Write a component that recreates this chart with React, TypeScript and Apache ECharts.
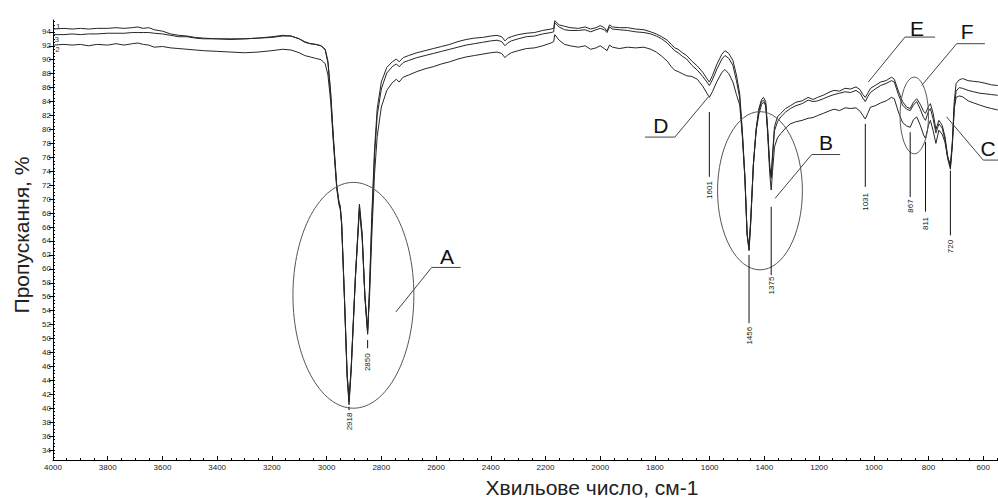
import React, { useEffect, useRef } from "react";
import * as echarts from "echarts";

const FONT = "'Liberation Sans', Arial, sans-serif";

// Wavenumber grid (cm-1) shared by the three spectra
const wavenumbers = [
  4000, 3960, 3930, 3900, 3870, 3840, 3800, 3770, 3740, 3710, 3690, 3670, 3650, 3630, 3600, 3570, 3540, 3510, 3480, 3450,
  3400, 3350, 3300, 3250, 3200, 3160, 3130, 3100, 3080, 3060, 3040, 3020, 3005, 2995, 2985, 2975, 2963, 2955, 2950, 2945,
  2935, 2925, 2918, 2910, 2895, 2880, 2870, 2860, 2850, 2843, 2835, 2825, 2815, 2800, 2780, 2760, 2745, 2735, 2720, 2700,
  2670, 2640, 2610, 2580, 2550, 2520, 2490, 2460, 2430, 2400, 2377, 2360, 2348, 2338, 2325, 2300, 2270, 2240, 2210, 2180,
  2170, 2166, 2150, 2130, 2110, 2080, 2055, 2035, 2015, 2000, 1985, 1975, 1966, 1955, 1930, 1900, 1870, 1840, 1815, 1795,
  1775, 1755, 1740, 1728, 1715, 1700, 1684, 1665, 1645, 1625, 1610, 1601, 1590, 1573, 1555, 1544, 1530, 1515, 1502, 1490,
  1480, 1471, 1463, 1456, 1450, 1440, 1430, 1420, 1410, 1403, 1395, 1388, 1380, 1375, 1370, 1363, 1352, 1340, 1322, 1305,
  1285, 1262, 1240, 1222, 1205, 1185, 1160, 1145, 1125, 1105, 1085, 1065, 1050, 1040, 1031, 1022, 1012, 995, 975, 955,
  935, 925, 910, 895, 880, 867, 855, 843, 830, 818, 811, 800, 793, 783, 773, 762, 750, 740, 730, 720,
  713, 706, 699, 688, 676, 655, 635, 613, 590, 570, 547,
];

// Spectrum 1 (top)
const spectrum1 = [
  94.4, 94.5, 94.4, 94.5, 94.4, 94.5, 94.5, 94.6, 94.5, 94.6, 94.7, 94.5, 94.6, 94.3, 94.1, 93.7, 93.5, 93.4, 93.2, 93.1,
  93.0, 93.0, 93.0, 93.1, 93.3, 93.5, 93.4, 93.0, 92.5, 92.3, 92.2, 92.0, 91.4, 89.5, 85.0, 78.5, 71.8, 69.5, 68.8, 66.5,
  56.0, 44.5, 40.5, 45.5, 58.5, 69.3, 65.0, 56.0, 50.6, 57.5, 67.5, 77.0, 83.0, 86.8, 88.9, 89.7, 90.1, 89.7, 90.3, 90.6,
  91.0, 91.3, 91.6, 91.9, 92.2, 92.6, 92.9, 93.1, 93.2, 93.4, 93.5, 93.3, 92.7, 93.1, 93.3, 93.6, 93.8, 93.9, 94.2, 94.4,
  94.5, 95.6, 95.0, 94.8, 94.6, 94.5, 94.7, 94.4, 94.6, 94.9, 94.6, 94.1, 95.0, 94.7, 94.6, 94.6, 94.4, 94.3, 94.0, 93.7,
  93.3, 92.8, 92.2, 91.7, 91.5, 91.0, 90.6, 89.8, 89.1, 88.2, 87.3, 86.8, 87.7, 89.4, 90.8, 91.3, 90.9, 89.9, 87.8, 85.1,
  79.5, 73.2, 65.0, 62.6, 66.5, 75.0, 80.0, 83.0, 84.3, 84.6, 84.0, 80.0, 74.5, 73.3, 76.5, 80.4, 81.8, 82.3, 83.0, 83.4,
  83.9, 84.1, 84.6, 84.3, 84.6, 84.9, 85.4, 85.6, 85.5, 85.9, 85.8, 86.1, 85.7, 85.0, 84.6, 85.2, 85.9, 86.3, 86.8, 87.0,
  87.5, 87.2, 85.5, 84.0, 83.2, 83.0, 83.9, 84.4, 83.6, 82.6, 82.3, 83.3, 83.7, 82.3, 80.0, 81.3, 80.6, 79.0, 76.2, 74.6,
  78.0, 84.0, 86.6, 87.1, 87.3, 87.0, 86.9, 86.8, 86.6, 86.4, 86.3,
];

// Spectrum 3 (middle)
const spectrum3 = [
  93.6, 93.6, 93.7, 93.6, 93.7, 93.7, 93.8, 93.8, 93.8, 93.9, 93.9, 93.9, 93.9, 93.8, 93.7, 93.5, 93.3, 93.3, 93.1, 93.0,
  93.0, 92.9, 93.0, 93.1, 93.2, 93.4, 93.4, 93.0, 92.6, 92.3, 92.2, 92.0, 91.5, 89.8, 85.3, 78.8, 72.0, 69.7, 69.0, 66.7,
  56.2, 44.8, 40.9, 45.8, 58.7, 69.0, 64.8, 56.0, 50.8, 57.0, 66.5, 76.0, 82.0, 85.8, 88.1, 89.0, 89.4, 89.0, 89.6, 89.9,
  90.3, 90.6, 90.9, 91.2, 91.5, 91.8, 92.1, 92.3, 92.5, 92.7, 92.8, 92.6, 92.0, 92.4, 92.7, 93.0, 93.3, 93.4, 93.7, 93.9,
  94.0, 95.3, 94.7, 94.3, 94.2, 94.2, 94.3, 94.0, 94.3, 94.5, 94.3, 93.9, 94.7, 94.4, 94.3, 94.2, 94.0, 93.9, 93.7, 93.4,
  93.0, 92.4, 91.8, 91.3, 91.0, 90.5, 90.1, 89.2, 88.5, 87.6, 86.8, 86.3, 87.1, 88.7, 90.1, 90.6, 90.2, 89.2, 87.0, 84.5,
  79.0, 73.0, 64.8, 62.8, 66.5, 75.0, 80.0, 82.7, 84.0, 84.2, 83.6, 80.0, 74.5, 73.0, 76.0, 79.8, 81.1, 81.8, 82.5, 83.0,
  83.4, 83.7, 84.2, 84.0, 84.1, 84.4, 84.8, 85.0, 85.2, 85.4, 85.3, 85.6, 85.2, 84.5, 84.0, 84.7, 85.3, 85.8, 86.3, 86.6,
  87.0, 86.8, 85.0, 83.5, 82.9, 82.7, 83.5, 84.0, 82.9, 81.7, 81.3, 82.6, 83.0, 81.5, 79.5, 80.8, 80.2, 78.6, 75.8, 74.3,
  77.5, 83.0, 85.5, 86.0, 85.9, 85.6, 85.4, 85.2, 85.1, 85.0, 84.9,
];

// Spectrum 2 (bottom)
const spectrum2 = [
  92.1, 92.2, 92.1, 92.2, 92.0, 92.2, 92.1, 92.3, 92.1, 92.3, 92.4, 92.2, 92.1, 91.8, 91.9, 91.7, 91.6, 91.5, 91.4, 91.3,
  91.2, 91.1, 91.0, 91.1, 91.3, 91.5, 91.4, 91.0, 90.6, 90.4, 90.2, 90.0, 89.4, 87.8, 84.0, 78.0, 71.5, 69.2, 68.5, 66.3,
  56.0, 45.0, 41.3, 46.0, 58.5, 68.4, 64.3, 56.2, 51.2, 56.0, 64.5, 73.5, 79.0, 83.2, 85.6, 86.7, 87.2, 86.8, 87.5, 87.8,
  88.3, 88.7, 89.0, 89.4, 89.7, 90.1, 90.4, 90.6, 90.8, 91.0, 91.1, 90.9, 90.3, 90.7, 91.0, 91.3, 91.6, 91.7, 92.0, 92.4,
  92.6, 93.6, 92.8, 92.2, 92.0, 91.8, 92.0, 91.5, 91.7, 92.0, 91.6, 91.3, 92.1, 91.8, 91.6, 91.8, 91.7, 91.8, 91.5, 91.1,
  90.5, 89.8, 89.0, 88.5, 88.3, 88.0, 87.7, 87.6, 87.2, 86.2, 85.2, 84.6, 85.4, 86.9, 88.2, 88.6, 88.0, 86.8, 85.0, 83.5,
  78.8, 72.8, 65.0, 63.3, 67.0, 75.0, 79.8, 82.2, 83.6, 83.9, 83.4, 79.5, 73.5, 71.3, 74.0, 77.5, 78.8, 79.4, 80.2, 80.8,
  81.1, 81.3, 81.6, 81.7, 82.0, 82.3, 82.7, 82.9, 82.7, 83.1, 83.0, 83.1, 82.6, 82.0, 81.5, 82.3, 83.2, 83.4, 83.8, 84.1,
  84.6, 84.4, 82.5, 81.0, 80.5, 80.3, 81.4, 81.8, 80.6, 79.2, 78.7, 80.6, 81.3, 79.8, 78.0, 79.9, 79.3, 78.2, 76.0, 74.9,
  78.0, 83.0, 84.6, 84.8, 84.7, 84.1, 83.8, 83.5, 83.2, 83.0, 82.8,
];

// Axis ticks
const xMajorTicks = [4000, 3800, 3600, 3400, 3200, 3000, 2800, 2600, 2400, 2200, 2000, 1800, 1600, 1400, 1200, 1000, 800, 600];
const yMajorTicks = [34, 36, 38, 40, 42, 44, 46, 48, 50, 52, 54, 56, 58, 60, 62, 64, 66, 68, 70, 72, 74, 76, 78, 80, 82, 84, 86, 88, 90, 92, 94];
const xMinorTicks: number[] = [];
for (let v = 4000; v >= 550; v -= 50) xMinorTicks.push(v);
const yMinorTicks: number[] = [];
for (let v = 33; v <= 95.5; v += 0.5) yMinorTicks.push(v);

// Peak markers: wavenumber label, line top/bottom and label centre (transmittance)
const peakLabels = ["2918", "2850", "1601", "1456", "1375", "1031", "867", "811", "720"];
const peakWn = [2918, 2850, 1601, 1456, 1375, 1031, 867, 811, 720];
const peakLineTop = [40.2, 49.8, 82.5, 62.0, 68.9, 80.8, 79.6, 78.2, 74.1];
const peakLineBottom = [39.7, 48.6, 73.2, 52.2, 59.1, 71.75, 70.3, 68.2, 64.8];
const peakTextT = [38.1, 46.6, 71.3, 50.4, 57.6, 69.6, 69.0, 66.5, 63.2];

// Ellipses (centre and half-axes in data units)
const ellipseWn = [2902, 1416, 852];
const ellipseT = [56.2, 71.2, 82.0];
const ellipseRWn = [221, 155, 52];
const ellipseRT = [16.2, 11.35, 5.5];

// Leader lines with letters: start, elbow, end, letter position
const leaderLetters = ["A", "B", "C", "D", "E", "F"];
const leaderStart = [[2747, 53.8], [1361, 70.1], [734, 81.8], [1605, 84.65], [1020, 86.8], [825, 86.3]];
const leaderElbow = [[2616, 60.2], [1227, 76.4], [600, 75.6], [1727, 78.9], [886, 93.25], [697, 92.3]];
const leaderEnd = [[2510, 60.2], [1123, 76.4], [546, 75.6], [1836, 78.9], [776, 93.25], [594, 92.3]];
const leaderText = [[2560, 61.8], [1175, 78.1], [582, 77.2], [1778, 80.6], [842, 94.5], [659, 94.1]];

// Spectrum number tags
const tagTexts = ["1", "3", "2"];
const tagWn = [3981, 3986, 3984];
const tagT = [94.75, 92.9, 91.45];

export default function App() {
  const ref = useRef<HTMLDivElement>(null);
  useEffect(() => {
    if (!ref.current) return;
    const chart = echarts.init(ref.current, undefined, { renderer: "svg" });
    const mkLine = (vals: number[], name: string) => ({
      type: "line",
      name,
      data: wavenumbers.map((w, i) => [w, vals[i]]),
      showSymbol: false,
      symbol: "none",
      silent: true,
      lineStyle: { color: "#262626", width: 1 },
      z: 3,
    });
    const option: any = {
      animation: false,
      backgroundColor: "#ffffff",
      textStyle: { fontFamily: FONT },
      grid: { left: 53, right: 0, top: 20, bottom: 38, containLabel: false },
      xAxis: [
        {
          type: "value",
          inverse: true,
          min: 546,
          max: 4000,
          position: "bottom",
          axisLine: { show: true, lineStyle: { color: "#000", width: 1 } },
          axisTick: { show: true, inside: true, length: 4, customValues: xMajorTicks, lineStyle: { color: "#000" } },
          axisLabel: {
            show: true,
            customValues: xMajorTicks,
            formatter: (v: number) => String(Math.round(v)),
            fontSize: 8,
            color: "#222",
            margin: 3,
            fontFamily: FONT,
          },
          splitLine: { show: false },
        },
        {
          type: "value",
          inverse: true,
          min: 546,
          max: 4000,
          position: "bottom",
          axisLine: { show: false },
          axisTick: { show: true, inside: true, length: 2, customValues: xMinorTicks, lineStyle: { color: "#000" } },
          axisLabel: { show: false },
          splitLine: { show: false },
        },
      ],
      yAxis: [
        {
          type: "value",
          min: 32.57,
          max: 95.7,
          position: "left",
          axisLine: { show: true, lineStyle: { color: "#000", width: 1 } },
          axisTick: { show: true, inside: false, length: 4, customValues: yMajorTicks, lineStyle: { color: "#000" } },
          axisLabel: {
            show: true,
            customValues: yMajorTicks,
            formatter: (v: number) => String(Math.round(v)),
            fontSize: 8,
            color: "#222",
            margin: 2,
            fontFamily: FONT,
          },
          splitLine: { show: false },
        },
        {
          type: "value",
          min: 32.57,
          max: 95.7,
          position: "left",
          axisLine: { show: false },
          axisTick: { show: true, inside: true, length: 2, customValues: yMinorTicks, lineStyle: { color: "#000" } },
          axisLabel: { show: false },
          splitLine: { show: false },
        },
      ],
      graphic: [
        {
          type: "text",
          x: 21,
          y: 235,
          rotation: Math.PI / 2,
          style: {
            text: "Пропускання, %",
            fontSize: 21,
            fontFamily: FONT,
            fill: "#222",
            align: "center",
            verticalAlign: "middle",
            textAlign: "center",
            textVerticalAlign: "middle",
          },
        },
        {
          type: "text",
          x: 592,
          y: 487,
          style: {
            text: "Хвильове число, см-1",
            fontSize: 21,
            fontFamily: FONT,
            fill: "#222",
            align: "center",
            verticalAlign: "middle",
            textAlign: "center",
            textVerticalAlign: "middle",
          },
        },
      ],
      series: [
        mkLine(spectrum1, "1"),
        mkLine(spectrum3, "3"),
        mkLine(spectrum2, "2"),
        {
          type: "custom",
          name: "ellipses",
          coordinateSystem: "cartesian2d",
          silent: true,
          clip: false,
          z: 10,
          data: ellipseWn.map((w, i) => [w, ellipseT[i], ellipseRWn[i], ellipseRT[i]]),
          renderItem: (params: any, api: any) => {
            const w = api.value(0), t = api.value(1), rw = api.value(2), rt = api.value(3);
            const c = api.coord([w, t]);
            const px = api.coord([w - rw, t]);
            const py = api.coord([w, t + rt]);
            return {
              type: "ellipse",
              shape: { cx: c[0], cy: c[1], rx: Math.abs(px[0] - c[0]), ry: Math.abs(py[1] - c[1]) },
              style: { fill: "none", stroke: "#555", lineWidth: 1 },
            };
          },
        },
        {
          type: "custom",
          name: "leaders",
          coordinateSystem: "cartesian2d",
          silent: true,
          clip: false,
          z: 11,
          data: leaderStart.map((s, i) => [s[0], s[1], leaderElbow[i][0], leaderElbow[i][1], leaderEnd[i][0], leaderEnd[i][1], leaderText[i][0], leaderText[i][1]]),
          renderItem: (params: any, api: any) => {
            const p1 = api.coord([api.value(0), api.value(1)]);
            const p2 = api.coord([api.value(2), api.value(3)]);
            const p3 = api.coord([api.value(4), api.value(5)]);
            const pt = api.coord([api.value(6), api.value(7)]);
            return {
              type: "group",
              children: [
                { type: "polyline", shape: { points: [p1, p2, p3] }, style: { fill: "none", stroke: "#444", lineWidth: 1 } },
                {
                  type: "text",
                  x: pt[0],
                  y: pt[1],
                  style: {
                    text: leaderLetters[params.dataIndex],
                    fontSize: 21,
                    fontFamily: FONT,
                    fill: "#111",
                    align: "center",
                    verticalAlign: "middle",
                  },
                },
              ],
            };
          },
        },
        {
          type: "custom",
          name: "peaks",
          coordinateSystem: "cartesian2d",
          silent: true,
          clip: false,
          z: 12,
          data: peakWn.map((w, i) => [w, peakLineTop[i], peakLineBottom[i], peakTextT[i]]),
          renderItem: (params: any, api: any) => {
            const w = api.value(0);
            const a = api.coord([w, api.value(1)]);
            const b = api.coord([w, api.value(2)]);
            const t = api.coord([w, api.value(3)]);
            return {
              type: "group",
              children: [
                { type: "line", shape: { x1: a[0], y1: a[1], x2: b[0], y2: b[1] }, style: { stroke: "#111", lineWidth: 1 } },
                {
                  type: "text",
                  x: t[0],
                  y: t[1],
                  rotation: Math.PI / 2,
                  style: {
                    text: peakLabels[params.dataIndex],
                    fontSize: 8,
                    fontFamily: FONT,
                    fill: "#222",
                    align: "center",
                    verticalAlign: "middle",
                  },
                },
              ],
            };
          },
        },
        {
          type: "custom",
          name: "tags",
          coordinateSystem: "cartesian2d",
          silent: true,
          clip: false,
          z: 12,
          data: tagWn.map((w, i) => [w, tagT[i]]),
          renderItem: (params: any, api: any) => {
            const p = api.coord([api.value(0), api.value(1)]);
            return {
              type: "text",
              x: p[0],
              y: p[1],
              style: {
                text: tagTexts[params.dataIndex],
                fontSize: 8,
                fontFamily: FONT,
                fill: "#333",
                align: "center",
                verticalAlign: "middle",
              },
            };
          },
        },
      ],
    };
    chart.setOption(option);
    return () => chart.dispose();
  }, []);
  return <div ref={ref} style={{ position: "absolute", left: 0, top: 0, width: 998, height: 498 }} />;
}
